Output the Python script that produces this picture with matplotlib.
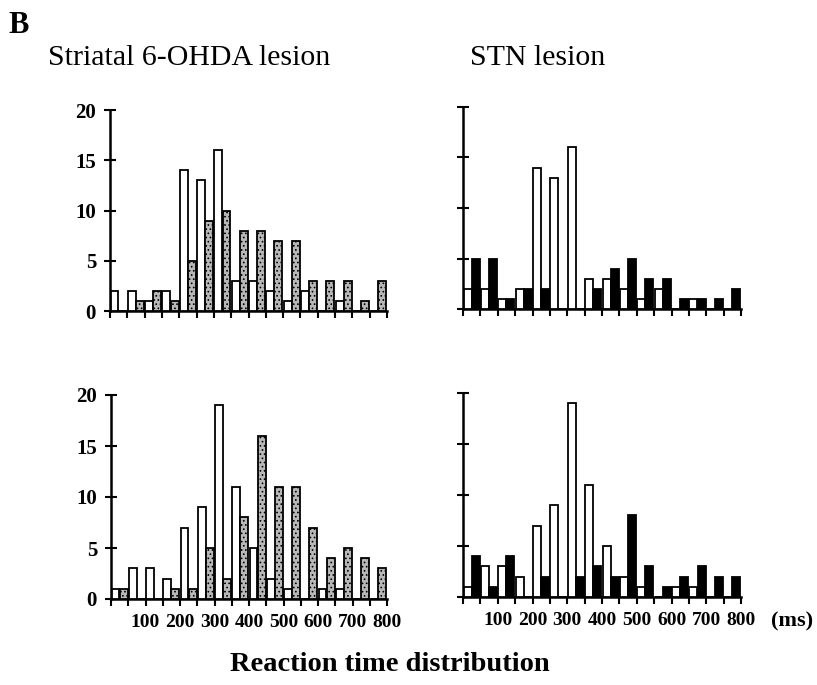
import matplotlib
matplotlib.use("Agg")
import matplotlib.pyplot as plt
import numpy as np

plt.rcParams['font.family'] = ['Liberation Serif', 'DejaVu Serif']
plt.rcParams['hatch.linewidth'] = 0.7

# 50 ms bins from 0 to 800 ms
bin_starts = list(range(0, 800, 50))
tick_labels = [100, 200, 300, 400, 500, 600, 700, 800]

# white bars (control) - same in both columns
top_white = [2, 2, 1, 2, 14, 13, 16, 3, 3, 2, 1, 2, 0, 1, 0, 0]
bottom_white = [1, 3, 3, 2, 7, 9, 19, 11, 5, 2, 1, 0, 1, 1, 0, 0]
# striatal 6-OHDA lesion (stippled)
top_left_lesion = [0, 1, 2, 1, 5, 9, 10, 8, 8, 7, 7, 3, 3, 3, 1, 3]
bottom_left_lesion = [1, 0, 0, 1, 1, 5, 2, 8, 16, 11, 11, 7, 4, 5, 4, 3]
# STN lesion (black)
top_right_lesion = [5, 5, 1, 2, 2, 0, 0, 2, 4, 5, 3, 3, 1, 1, 1, 2]
bottom_right_lesion = [4, 1, 4, 0, 2, 0, 2, 3, 2, 8, 3, 1, 2, 3, 2, 2]

W, H = 817, 685
fig = plt.figure(figsize=(W / 100, H / 100), dpi=100)


def px_axes(l, r, b, t):
    return fig.add_axes([l / W, 1 - b / H, (r - l) / W, (b - t) / H])


def draw(ax, white, lesion, kind, ylabels, xlabels):
    x = np.array(bin_starts, dtype=float)
    ax.bar(x + 1.5, white, width=23, align='edge', facecolor='white',
           edgecolor='black', linewidth=1.3, zorder=3)
    if kind == 'gray':
        ax.bar(x + 25, lesion, width=23, align='edge', facecolor='#b8b8b8',
               edgecolor='black', linewidth=1.3, hatch='....', zorder=3)
    else:
        ax.bar(x + 25, lesion, width=23, align='edge', facecolor='black',
               edgecolor='black', linewidth=1.3, zorder=3)
    ax.set_xlim(0, 800)
    ax.set_ylim(0, 20)
    for s in ['top', 'right']:
        ax.spines[s].set_visible(False)
    for s in ['left', 'bottom']:
        ax.spines[s].set_linewidth(1.8)
    ax.set_yticks([0, 5, 10, 15, 20])
    ax.set_xticks(list(range(0, 801, 50)))
    ax.tick_params(axis='y', direction='inout', length=8, width=1.5,
                   labelsize=15, pad=6)
    ax.tick_params(axis='x', direction='out', length=5, width=1.5,
                   labelsize=14, pad=6)
    if ylabels:
        ax.set_yticklabels(['0', '5', '10', '15', '20'], fontweight='bold')
    else:
        ax.set_yticklabels([])
    if xlabels:
        labs = [str(v) if v in tick_labels else '' for v in range(0, 801, 50)]
        ax.set_xticklabels(labs, fontweight='bold')
    else:
        ax.set_xticklabels([])


ax1 = px_axes(110, 387, 311, 110)
draw(ax1, top_white, top_left_lesion, 'gray', True, False)
ax2 = px_axes(463, 741, 309, 107)
draw(ax2, top_white, top_right_lesion, 'black', False, False)
ax3 = px_axes(111, 387, 599, 395)
draw(ax3, bottom_white, bottom_left_lesion, 'gray', True, True)
ax4 = px_axes(463, 741, 597, 393)
draw(ax4, bottom_white, bottom_right_lesion, 'black', False, True)

fig.text(8 / W, 1 - 33 / H, 'B', fontsize=22, fontweight='bold', va='baseline')
fig.text(48 / W, 1 - 65 / H, 'Striatal 6-OHDA lesion', fontsize=21.5, va='baseline')
fig.text(470 / W, 1 - 65 / H, 'STN lesion', fontsize=21.5, va='baseline')
fig.text(771 / W, 1 - 626 / H, '(ms)', fontsize=16, fontweight='bold', va='baseline')
fig.text(390 / W, 1 - 671 / H, 'Reaction time distribution', fontsize=20.5,
         fontweight='bold', ha='center', va='baseline')

fig.savefig('out.png', dpi=100)
